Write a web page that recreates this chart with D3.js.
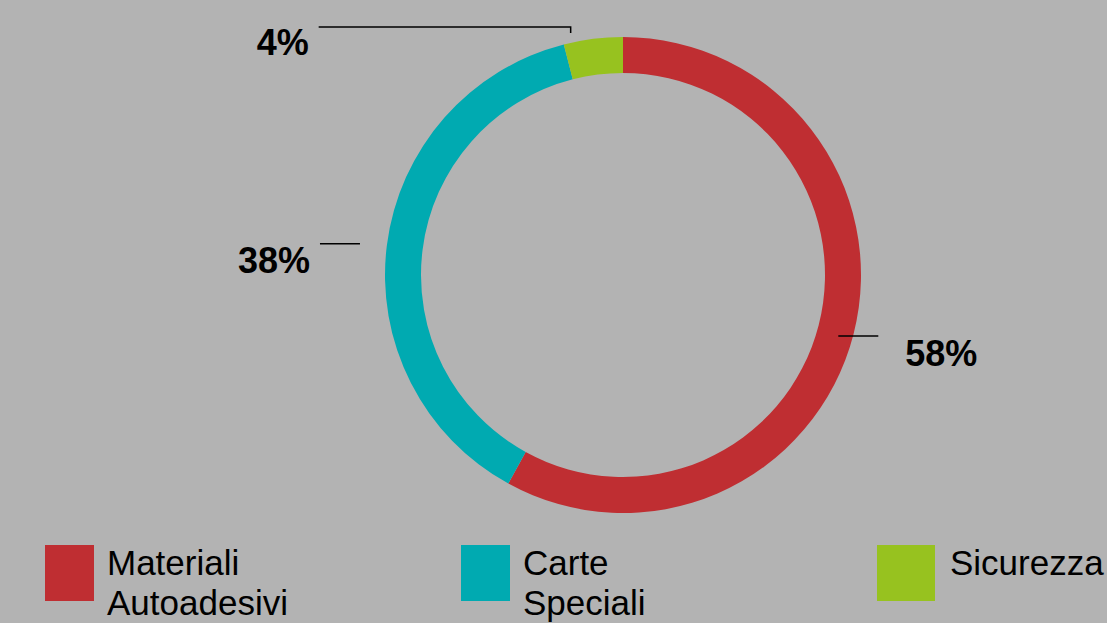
<!DOCTYPE html>
<html>
<head>
<meta charset="utf-8">
<script src="https://cdn.jsdelivr.net/npm/d3@7"></script>
<style>
  html, body { margin: 0; padding: 0; background: #b3b3b3; }
  svg { display: block; }
</style>
</head>
<body>
<svg id="chart"></svg>
<script>
var categories = [["Materiali", "Autoadesivi"], ["Carte", "Speciali"], ["Sicurezza"]];
var values = [58, 38, 4];
var labels = ["58%", "38%", "4%"];
var colors = ["#bf2e32", "#00aab1", "#97c21f"];

var W = 1107, H = 623;
var cx = 623, cy = 275, outerR = 238, innerR = 202;

var svg = d3.select("#chart").attr("width", W).attr("height", H);

var pie = d3.pie().sort(null).value(function (d) { return d; });
var arcs = pie(values);
var arc = d3.arc().innerRadius(innerR).outerRadius(outerR);

var g = svg.append("g").attr("transform", "translate(" + cx + "," + cy + ")");

g.selectAll("path")
  .data(arcs)
  .join("path")
  .attr("d", arc)
  .attr("fill", function (d, i) { return colors[i]; });

// leader lines + labels, placed from each slice's middle angle
var leader = [
  { r: 245, x0: -22, len: 40, dir: 1, tx: 67, ty: 30 },
  { r: 250, x0: -15, len: 40, dir: -1, tx: -50, ty: 29 },
  { r: 250, x0: -21, len: 252, dir: -1, tx: -262, ty: 28, tick: 6 }
];

arcs.forEach(function (d, i) {
  var a = (d.startAngle + d.endAngle) / 2;
  var L = leader[i];
  var px = Math.sin(a) * L.r + L.x0;
  var py = -Math.cos(a) * L.r;
  if (i === 2) py = -248;
  var x1 = px, x2 = px + L.dir * L.len;
  if (L.tick) {
    g.append("path")
      .attr("d", "M" + x2 + "," + py + "H" + x1 + "V" + (py + L.tick))
      .attr("fill", "none").attr("stroke", "#000").attr("stroke-width", 1.5);
  } else {
    g.append("line")
      .attr("x1", x1).attr("x2", x2).attr("y1", py).attr("y2", py)
      .attr("stroke", "#000").attr("stroke-width", 1.5);
  }
  g.append("text")
    .attr("x", x1 + L.tx)
    .attr("y", py + L.ty)
    .attr("text-anchor", L.dir > 0 ? "start" : "end")
    .style("font-family", "'Liberation Sans', Arial, sans-serif")
    .style("font-weight", "bold")
    .style("font-size", "36px")
    .attr("fill", "#000")
    .text(labels[i]);
});

// legend
var legendX = d3.scalePoint().domain(d3.range(categories.length)).range([45, 877]);
var leg = svg.selectAll("g.leg")
  .data(categories)
  .join("g")
  .attr("class", "leg")
  .attr("transform", function (d, i) { return "translate(" + legendX(i) + ",545)"; });

leg.append("rect")
  .attr("width", function (d, i) { return i === 2 ? 58 : 49; })
  .attr("height", 56)
  .attr("fill", function (d, i) { return colors[i]; });

leg.append("text")
  .attr("x", function (d, i) { return i === 2 ? 73 : 62; })
  .attr("y", 30)
  .style("font-family", "'Liberation Sans', Arial, sans-serif")
  .style("font-size", "35px")
  .attr("fill", "#000")
  .selectAll("tspan")
  .data(function (d) { return d; })
  .join("tspan")
  .attr("x", function () { return d3.select(this.parentNode).attr("x"); })
  .attr("dy", function (d, j) { return j === 0 ? 0 : 40; })
  .text(function (d) { return d; });
</script>
</body>
</html>
